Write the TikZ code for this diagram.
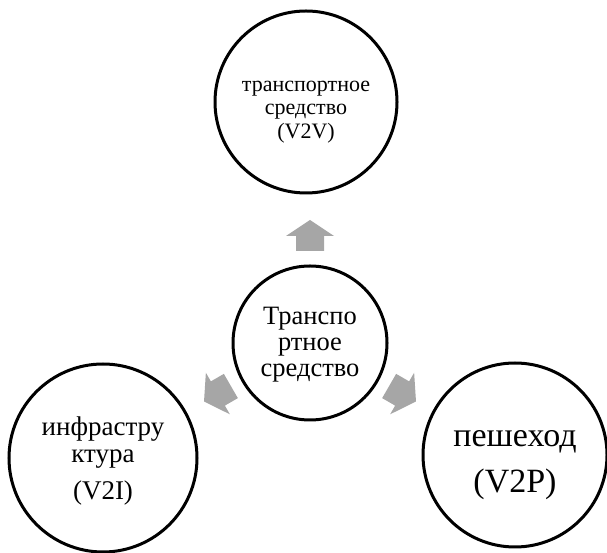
\documentclass[tikz,border=0pt]{standalone}
\usepackage{fontspec}
\setmainfont{Liberation Serif}
\begin{document}
\begin{tikzpicture}[x=1pt,y=1pt,
  ring/.style={circle,draw=black,line width=3pt,inner sep=0pt},
  ringtext/.style={align=center,text=black,inner sep=0pt},
  blockarrow/.style={fill=black!35,draw=none}]
\useasboundingbox (0,0) rectangle (607,553);
% circles
\node[ring,minimum size=182pt] (v2v) at (306,451) {};
\node[ring,minimum size=154pt] (veh) at (310,210) {};
\node[ring,minimum size=188pt] (v2i) at (103,95) {};
\node[ring,minimum size=184pt] (v2p) at (515,98) {};
% texts
\node[ringtext,font=\fontsize{22}{23}\selectfont] (t1) at ([yshift=-10pt]v2v.center)
  {транспортное\\средство\\[1pt](V2V)};
\node[ringtext,font=\fontsize{26.5}{26}\selectfont] (t2) at ([yshift=-2pt]veh.center)
  {Транспо\\ртное\\средство};
\node[ringtext,font=\fontsize{27}{27}\selectfont] (t3) at ([yshift=-3pt]v2i.center)
  {инфрастру\\ктура\\[10pt](V2I)};
\node[ringtext,font=\fontsize{34}{46}\selectfont] (t4) at ([yshift=-10pt]v2p.center)
  {пешеход\\(V2P)};
% block arrows
\coordinate (a1) at (310,318);
\coordinate (a2) at (217,159);
\coordinate (a3) at (403,159);
\foreach \c/\r in {a1/90,a2/210,a3/330}{
  \fill[blockarrow,shift={(\c)},rotate=\r]
    (-16,-14) -- (-1,-14) -- (-1,-24) -- (15,0) -- (-1,24) -- (-1,14) -- (-16,14) -- cycle;
}
\end{tikzpicture}
\end{document}
